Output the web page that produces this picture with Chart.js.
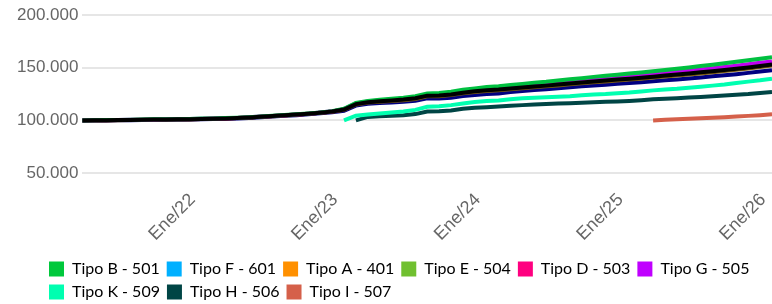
<!DOCTYPE html>
<html>
<head>
<meta charset="utf-8">
<script src="https://cdn.jsdelivr.net/npm/chart.js@4"></script>
<style>
  html, body { margin: 0; padding: 0; background: #fff; }
  #wrap { width: 772px; height: 304px; position: relative; }
</style>
</head>
<body>
<div id="wrap"><canvas id="chart"></canvas></div>
<script>
// monthly index values, in thousands (100 = 100.000)
const months = [
  'Abr/21','May/21','Jun/21','Jul/21','Ago/21','Sep/21','Oct/21','Nov/21','Dic/21',
  'Ene/22','Feb/22','Mar/22','Abr/22','May/22','Jun/22','Jul/22','Ago/22','Sep/22','Oct/22','Nov/22','Dic/22',
  'Ene/23','Feb/23','Mar/23','Abr/23','May/23','Jun/23','Jul/23','Ago/23','Sep/23','Oct/23','Nov/23','Dic/23',
  'Ene/24','Feb/24','Mar/24','Abr/24','May/24','Jun/24','Jul/24','Ago/24','Sep/24','Oct/24','Nov/24','Dic/24',
  'Ene/25','Feb/25','Mar/25','Abr/25','May/25','Jun/25','Jul/25','Ago/25','Sep/25','Oct/25','Nov/25','Dic/25',
  'Ene/26','Feb/26'
];

const tipoB = [100,100.2,100.3,100.4,100.6,100.8,101.0,101.1,101.2,101.4,
  101.7,101.9,102.2,102.6,103.1,103.8,104.4,105.1,105.8,106.6,107.6,108.8,
  111.1,116.5,118.5,119.6,120.6,121.6,123.0,125.6,125.9,127.1,129.0,130.4,
  131.6,132.4,133.5,134.6,135.7,136.6,137.8,139.0,140.1,141.3,142.3,143.3,
  144.4,145.5,146.7,147.9,149.1,150.3,151.6,152.9,154.2,155.6,157.0,158.5,
  160.0];
const tipoF = [100,99.9,100.0,100.1,100.2,100.3,100.5,100.6,100.7,100.9,
  101.1,101.3,101.6,101.9,102.4,103.1,103.7,104.4,105.0,105.8,106.7,107.8,
  109.1,114.1,115.7,116.4,117.0,117.6,118.6,120.9,120.8,121.6,123.1,124.2,
  125.0,125.6,126.9,128.0,128.8,129.6,130.5,131.4,132.3,133.2,133.9,134.7,
  135.5,136.2,137.1,138.0,138.9,139.8,140.8,141.8,142.8,143.9,145.1,146.3,
  147.7];
const tipoA = [100,100.0,100.1,100.2,100.4,100.5,100.7,100.8,100.9,101.1,
  101.3,101.5,101.8,102.2,102.7,103.4,104.0,104.7,105.4,106.2,107.2,108.3,
  110.0,115.1,116.9,117.7,118.5,119.2,120.4,122.9,123.0,124.0,125.7,127.0,
  128.0,128.6,129.6,130.6,131.5,132.3,133.2,134.2,135.2,136.2,136.9,137.8,
  138.7,139.6,140.6,141.6,142.6,143.6,144.6,145.7,146.8,148.0,149.3,150.6,
  152.0];
const tipoE = [100,100.1,100.2,100.3,100.5,100.6,100.8,100.9,101.0,101.2,
  101.4,101.6,101.9,102.3,102.8,103.5,104.1,104.8,105.5,106.3,107.3,108.5,
  110.3,115.5,117.3,118.2,119.0,119.8,121.0,123.5,123.6,124.6,126.3,127.6,
  128.6,129.3,130.3,131.3,132.2,133.0,134.0,135.0,136.0,137.0,137.8,138.7,
  139.6,140.5,141.5,142.5,143.5,144.5,145.6,146.7,147.8,149.0,150.3,151.6,
  153.0];
const tipoD = [100,100.1,100.2,100.3,100.5,100.6,100.8,100.9,101.0,101.2,
  101.4,101.6,101.9,102.3,102.8,103.5,104.1,104.8,105.5,106.3,107.3,108.5,
  110.5,115.7,117.6,118.6,119.4,120.2,121.4,123.9,124.1,125.2,126.9,128.2,
  129.3,130.0,131.0,132.0,132.9,133.8,134.8,135.8,136.8,137.8,138.6,139.6,
  140.5,141.4,142.4,143.5,144.5,145.5,146.7,147.8,148.9,150.1,151.5,152.8,
  154.2];
const tipoG = [100,100.1,100.3,100.4,100.6,100.7,100.9,101.0,101.1,101.3,
  101.5,101.7,102.0,102.4,102.9,103.6,104.2,104.9,105.6,106.4,107.4,108.6,
  110.7,116.0,117.9,118.9,119.8,120.7,122.0,124.6,124.8,125.9,127.7,129.0,
  130.0,130.8,131.8,132.8,133.8,134.7,135.8,136.9,138.0,139.1,140.0,140.9,
  141.9,142.8,143.9,145.0,146.0,147.1,148.3,149.4,150.6,151.9,153.2,154.6,
  156.0];
const tipoK = [null,null,null,null,null,null,null,null,null,null,
  null,null,null,null,null,null,null,null,null,null,null,null,
  100,104.5,105.5,106.5,107.5,108.5,110.0,113.0,113.5,114.5,116.0,117.5,
  118.5,119.0,120.0,121.0,121.5,122.0,122.5,123.0,123.8,124.5,125.0,125.8,
  126.5,127.5,128.5,129.3,130.0,131.0,132.0,133.0,134.0,135.5,136.8,138.0,
  139.6];
const tipoH = [null,null,null,null,null,null,null,null,null,null,
  null,null,null,null,null,null,null,null,null,null,null,null,
  null,100,103.3,104.0,104.5,105.0,106.0,108.5,108.8,109.5,111.0,112.0,
  112.5,113.2,114.0,114.5,115.0,115.5,116.0,116.3,116.8,117.2,117.6,118.0,
  118.5,119.2,120.0,120.5,121.0,121.7,122.3,123.0,123.6,124.3,125.0,126.0,
  127.0];
const tipoI = [null,null,null,null,null,null,null,null,null,null,
  null,null,null,null,null,null,null,null,null,null,null,null,
  null,null,null,null,null,null,null,null,null,null,null,null,
  null,null,null,null,null,null,null,null,null,null,null,null,
  null,null,100,100.6,101.1,101.6,102.1,102.6,103.1,103.7,104.3,105.0,
  105.8];

const names = ['Tipo B - 501','Tipo F - 601','Tipo A - 401','Tipo E - 504','Tipo D - 503',
  'Tipo G - 505','Tipo K - 509','Tipo H - 506','Tipo I - 507'];
const series = [tipoB, tipoF, tipoA, tipoE, tipoD, tipoG, tipoK, tipoH, tipoI];
const legendColors = ['#00c83c','#00b0ff','#ff9000','#70c030','#ff0080','#c000ff','#00ffb0','#004545','#d5604a'];
const lineColors = ['#00c040','#000080','#7a5a10','#000000','#5a0010','#c000f0','#00ffb0','#004545','#d5604a'];
const drawOrder = [1, 5, 4, 0, 3, 2, 6, 7, 8];

// legend rows start further right (and a little lower) than the default spot
const legendShift = {
  id: 'legendShift',
  afterLayout(chart) {
    chart.legend.left += 29;
    chart.legend.top += 6;
  }
};

new Chart(document.getElementById('chart'), {
  type: 'line',
  data: {
    labels: months,
    datasets: series.map((vals, i) => ({
      label: names[i],
      data: vals,
      borderColor: lineColors[i],
      backgroundColor: legendColors[i],
      borderWidth: 4,
      pointRadius: 0,
      tension: 0,
      order: drawOrder[i]
    }))
  },
  options: {
    responsive: true,
    maintainAspectRatio: false,
    animation: false,
    layout: { padding: { top: 15, right: 0, left: 13, bottom: 0 } },
    plugins: {
      tooltip: { enabled: false },
      legend: {
        position: 'bottom',
        align: 'start',
        labels: {
          boxWidth: 15,
          boxHeight: 15,
          padding: 7,
          color: '#111',
          font: { family: 'Lato', size: 16 },
          generateLabels: chart => chart.data.datasets.map((ds, i) => ({
            text: ds.label,
            fillStyle: legendColors[i],
            strokeStyle: legendColors[i],
            lineWidth: 0,
            hidden: !chart.isDatasetVisible(i),
            datasetIndex: i
          }))
        }
      }
    },
    scales: {
      x: {
        grid: { display: false },
        border: { display: false },
        afterFit: scale => { scale.paddingRight = 0; },
        ticks: {
          autoSkip: false,
          minRotation: 45,
          maxRotation: 45,
          labelOffset: 3,
          color: '#666',
          font: { family: 'Liberation Sans', size: 18 },
          callback: function (value) {
            const l = this.getLabelForValue(value);
            return l.startsWith('Ene') ? l : null;
          }
        }
      },
      y: {
        min: 45,
        max: 200,
        grid: { color: '#e6e6e6', lineWidth: 2, drawTicks: false },
        border: { display: false },
        ticks: {
          stepSize: 50,
          includeBounds: false,
          padding: 4,
          color: '#666',
          font: { family: 'Liberation Sans', size: 17 },
          callback: v => v + '.000'
        }
      }
    }
  },
  plugins: [legendShift]
});
</script>
</body>
</html>
